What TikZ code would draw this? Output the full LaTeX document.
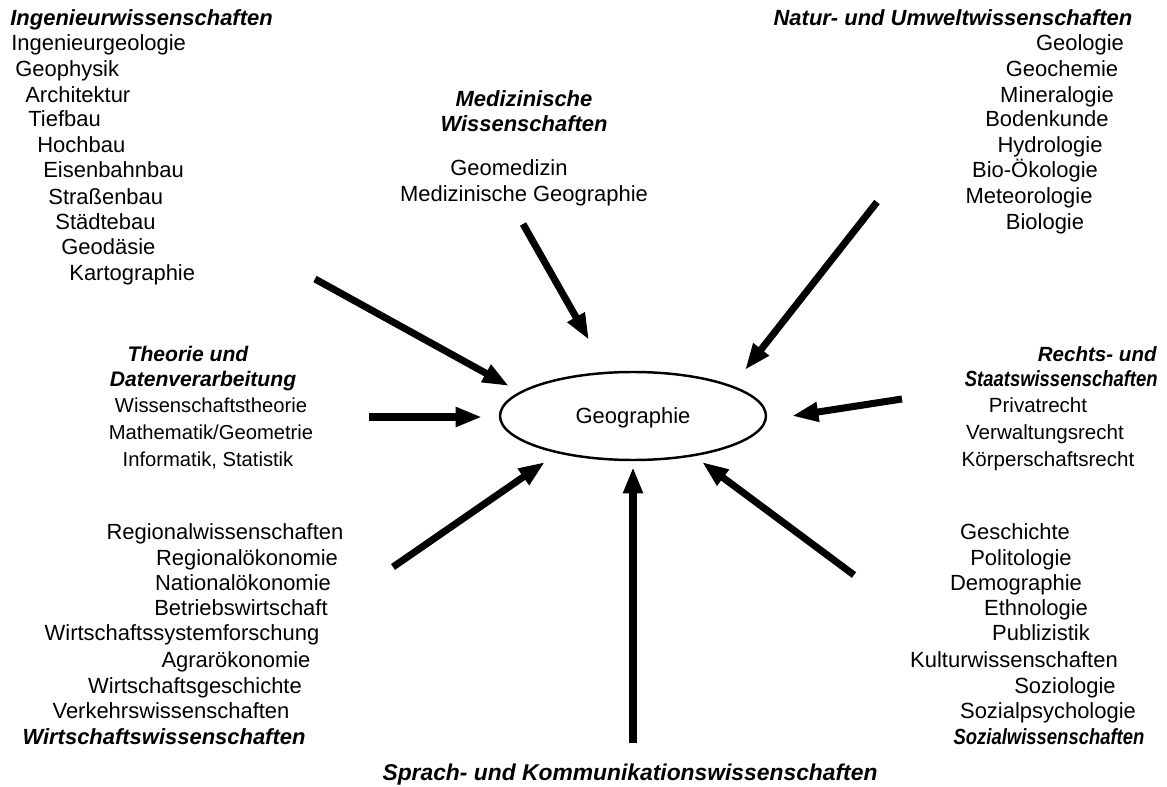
\documentclass[tikz,border=0pt]{standalone}
\usepackage{fontspec}
\setmainfont{Liberation Sans}
\newfontfamily\schmal[FakeStretch=0.84]{Liberation Sans}
\usetikzlibrary{
	arrows.meta,
	shapes.geometric
}
\tikzset{
	fach/.style={
		font=\fontsize{12.5}{14}\selectfont,
		inner sep=0pt, text height=9pt, text depth=0pt
	},
	klein/.style={
		fach, font=\fontsize{11.5}{13}\selectfont
	},
	gebiet/.style={
		fach, font=\fontsize{12.5}{14}\selectfont\bfseries\itshape
	},
	gebietschmal/.style={
		fach, font=\schmal\fontsize{12.5}{14}\selectfont\bfseries\itshape
	},
	zentrum/.style={
		ellipse, draw, line width=1.4pt, inner sep=0pt,
		minimum width=5.32cm, minimum height=1.76cm
	},
	every edge/.append style={
		line width=4pt, -{Triangle[length=15pt,width=10.5pt]}
	}
}

\begin{document}
\begin{tikzpicture}[x=0.02cm,y=-0.02cm]
	\useasboundingbox (0,0) rectangle (1167,787);

	\draw node [zentrum,fach] (geo) at (633,416) {Geographie};

	% oben links
	\draw
		node [gebiet,anchor=west] (ing)   at (10,18)  {Ingenieurwissenschaften}
		node [fach,anchor=west]   (ing1)  at (11,43)  {Ingenieurgeologie}
		node [fach,anchor=west]   (ing2)  at (15,69)  {Geophysik}
		node [fach,anchor=west]   (ing3)  at (25,95)  {Architektur}
		node [fach,anchor=west]   (ing4)  at (28,119) {Tiefbau}
		node [fach,anchor=west]   (ing5)  at (37,145) {Hochbau}
		node [fach,anchor=west]   (ing6)  at (43,170) {Eisenbahnbau}
		node [fach,anchor=west]   (ing7)  at (48,197) {Straßenbau}
		node [fach,anchor=west]   (ing8)  at (55,222) {Städtebau}
		node [fach,anchor=west]   (ing9)  at (61,247) {Geodäsie}
		node [fach,anchor=west]   (ing10) at (69,273) {Kartographie}
	;

	% oben
	\draw
		node [gebiet] (med)  at (524,99)  {Medizinische}
		node [gebiet] (med0) at (524,124) {Wissenschaften}
		node [fach]   (med1) at (509,168) {Geomedizin}
		node [fach]   (med2) at (524,194) {Medizinische Geographie}
	;

	% oben rechts
	\draw
		node [gebiet] (nat)  at (953,18)  {Natur- und Umweltwissenschaften}
		node [fach]   (nat1) at (1080,43) {Geologie}
		node [fach]   (nat2) at (1062,69) {Geochemie}
		node [fach]   (nat3) at (1057,95) {Mineralogie}
		node [fach]   (nat4) at (1047,119) {Bodenkunde}
		node [fach]   (nat5) at (1050,145) {Hydrologie}
		node [fach]   (nat6) at (1035,170) {Bio-Ökologie}
		node [fach]   (nat7) at (1029,196) {Meteorologie}
		node [fach]   (nat8) at (1045,222) {Biologie}
	;

	% links
	\draw
		node [gebiet,font=\fontsize{12}{14}\selectfont\bfseries\itshape] (the)  at (188,354) {Theorie und}
		node [gebiet,font=\fontsize{12}{14}\selectfont\bfseries\itshape] (the0) at (203,379) {Datenverarbeitung}
		node [klein]  (the1) at (211,405) {Wissenschaftstheorie}
		node [klein]  (the2) at (211,432) {Mathematik/Geometrie}
		node [klein]  (the3) at (208,459) {Informatik, Statistik}
	;

	% rechts
	\draw
		node [gebiet,anchor=east,font=\fontsize{11.7}{13}\selectfont\bfseries\itshape] (rec) at (1157,354) {Rechts- und}
		node [gebietschmal,anchor=east] (rec0) at (1158,379) {Staatswissenschaften}
		node [fach,font=\fontsize{11.7}{13}\selectfont] (rec1) at (1038,405) {Privatrecht}
		node [fach,font=\fontsize{11.7}{13}\selectfont] (rec2) at (1045,432) {Verwaltungsrecht}
		node [fach,font=\fontsize{11.7}{13}\selectfont] (rec3) at (1048,459) {Körperschaftsrecht}
	;

	% unten links
	\draw
		node [fach]   (wir1) at (225,532) {Regionalwissenschaften}
		node [fach]   (wir2) at (247,558) {Regionalökonomie}
		node [fach]   (wir3) at (243,583) {Nationalökonomie}
		node [fach]   (wir4) at (241,608) {Betriebswirtschaft}
		node [fach]   (wir5) at (182,633) {Wirtschaftssystemforschung}
		node [fach]   (wir6) at (236,660) {Agrarökonomie}
		node [fach]   (wir7) at (195,686) {Wirtschaftsgeschichte}
		node [fach]   (wir8) at (171,711) {Verkehrswissenschaften}
		node [gebiet] (wir)  at (164,737) {Wirtschaftswissenschaften}
	;

	% unten rechts
	\draw
		node [fach]   (soz1) at (1015,532) {Geschichte}
		node [fach]   (soz2) at (1021,558) {Politologie}
		node [fach]   (soz3) at (1016,583) {Demographie}
		node [fach]   (soz4) at (1036,608) {Ethnologie}
		node [fach]   (soz5) at (1041,633) {Publizistik}
		node [fach]   (soz6) at (1014,660) {Kulturwissenschaften}
		node [fach]   (soz7) at (1065,686) {Soziologie}
		node [fach]   (soz8) at (1048,711) {Sozialpsychologie}
		node [gebietschmal] (soz) at (1049,737) {Sozialwissenschaften}
	;

	% unten
	\draw node [gebiet,font=\fontsize{13}{15}\selectfont\bfseries\itshape] (spr) at (630,773) {Sprach- und Kommunikationswissenschaften};

	% Pfeile
	\draw
		coordinate (ing-a) at (315,279) coordinate (ing-b) at (509,386)
		coordinate (med-a) at (523,224) coordinate (med-b) at (589,340)
		coordinate (nat-a) at (877,202) coordinate (nat-b) at (745,370)
		coordinate (the-a) at (369,417) coordinate (the-b) at (482,417)
		coordinate (rec-a) at (902,399) coordinate (rec-b) at (792,416)
		coordinate (wir-a) at (393,567) coordinate (wir-b) at (545,462)
		coordinate (spr-a) at (633,743) coordinate (spr-b) at (633,467)
		coordinate (soz-a) at (854,575) coordinate (soz-b) at (702,462)

		(ing-a) edge (ing-b)
		(med-a) edge (med-b)
		(nat-a) edge (nat-b)
		(the-a) edge (the-b)
		(rec-a) edge (rec-b)
		(wir-a) edge (wir-b)
		(spr-a) edge (spr-b)
		(soz-a) edge (soz-b)
	;
\end{tikzpicture}
\end{document}
